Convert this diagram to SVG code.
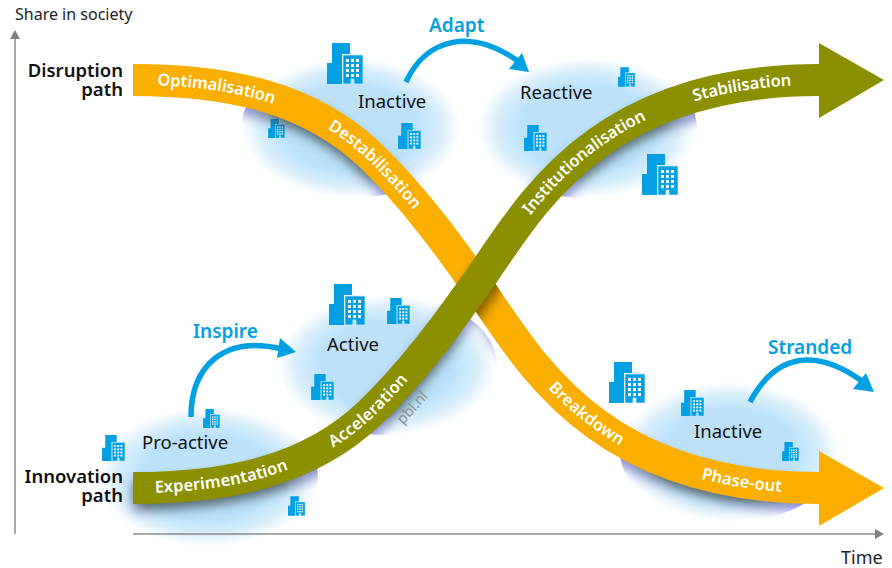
<svg xmlns="http://www.w3.org/2000/svg" xmlns:xlink="http://www.w3.org/1999/xlink" width="892" height="568" viewBox="0 0 892 568">
<style>
text{font-family:"Noto Sans","Open Sans","Liberation Sans",sans-serif}
.lbl{font-size:18.5px;fill:#111}
.path{font-size:18.5px;font-weight:600;fill:#111;text-anchor:end}
.act{font-size:19px;font-weight:600;fill:#00a0e3}
.ax{font-size:16px;fill:#222}
.band{font-size:16.5px;font-weight:600;fill:#fff;text-anchor:middle}
.arc{fill:none;stroke:#00a0e3;stroke-width:5.5}
.bl{fill:#00a0e3}
.axis{stroke:#8c8c8c;stroke-width:1.5;fill:none}
</style>
<defs>
<radialGradient id="g"><stop offset="0" stop-color="#bce1f8"/><stop offset=".6" stop-color="#bce1f8"/><stop offset=".82" stop-color="#d8eefb"/><stop offset="1" stop-color="#fff"/></radialGradient>
<radialGradient id="mi"><stop offset="0" stop-color="#fff"/><stop offset=".7" stop-color="#fff"/><stop offset="1" stop-color="#000"/></radialGradient>
<radialGradient id="mo"><stop offset="0" stop-color="#000"/><stop offset=".7" stop-color="#000"/><stop offset="1" stop-color="#fff"/></radialGradient>
<filter id="b1" x="-20%" y="-20%" width="140%" height="140%"><feGaussianBlur stdDeviation="6"/></filter>
<mask id="inner" maskUnits="userSpaceOnUse" x="0" y="0" width="892" height="568"><g fill="url(#mi)">
<ellipse cx="351" cy="128" rx="110" ry="70"/><ellipse cx="587" cy="128" rx="110" ry="70"/><ellipse cx="387" cy="365" rx="110" ry="70"/><ellipse cx="208" cy="477" rx="110" ry="70"/><ellipse cx="730" cy="452" rx="110" ry="70"/></g></mask>
<mask id="outer" maskUnits="userSpaceOnUse" x="0" y="0" width="892" height="568"><g fill="url(#mo)">
<ellipse cx="351" cy="128" rx="110" ry="70"/><ellipse cx="587" cy="128" rx="110" ry="70"/><ellipse cx="387" cy="365" rx="110" ry="70"/><ellipse cx="208" cy="477" rx="110" ry="70"/><ellipse cx="730" cy="452" rx="110" ry="70"/></g></mask>
<path id="po" d="M133 80C230 80 310 98 370 155C420 203 460 262 476 284C525 352 590 488 819 488"/>
<path id="pg" d="M133 488C230 488 310 470 370 413C420 365 460 306 476 284C525 216 590 80 819 80"/>
<mask id="om" maskUnits="userSpaceOnUse" x="0" y="0" width="892" height="568"><use href="#po" fill="none" stroke="#fff" stroke-width="32"/></mask>
<symbol id="bd" viewBox="0 0 36 41">
<path class="bl" d="M5 0H23V11H15V41H0V20H5Z"/>
<path class="bl" stroke="#bfe3f8" stroke-width=".8" d="M16 12H36V41H27V36H24V41H16Z"/>
<g fill="#fff"><rect x="19" y="16" width="3" height="3"/><rect x="24" y="16" width="3" height="3"/><rect x="29" y="16" width="3" height="3"/><rect x="19" y="21" width="3" height="3"/><rect x="24" y="21" width="3" height="3"/><rect x="29" y="21" width="3" height="3"/><rect x="19" y="26" width="3" height="3"/><rect x="24" y="26" width="3" height="3"/><rect x="29" y="26" width="3" height="3"/><rect x="19" y="31" width="3" height="3"/><rect x="24" y="31" width="3" height="3"/><rect x="29" y="31" width="3" height="3"/></g>
</symbol>
</defs>

<g id="node-inactive-top">
<ellipse cx="351" cy="128" rx="110" ry="70" fill="url(#g)"/>
<text class="lbl" x="358" y="108">Inactive</text>
<use href="#bd" x="327" y="43" width="36" height="41"/><use href="#bd" x="398" y="123" width="23" height="26"/><use href="#bd" x="268" y="119" width="17" height="19"/>
</g>
<g id="node-reactive">
<ellipse cx="587" cy="128" rx="110" ry="70" fill="url(#g)"/>
<text class="lbl" x="520" y="99">Reactive</text>
<use href="#bd" x="642" y="154" width="36" height="41"/><use href="#bd" x="524" y="125" width="23" height="26"/><use href="#bd" x="618" y="67" width="17" height="20"/>
</g>
<g id="node-active">
<ellipse cx="387" cy="365" rx="110" ry="70" fill="url(#g)"/>
<text class="lbl" x="327" y="351">Active</text>
<use href="#bd" x="329" y="284" width="36" height="41"/><use href="#bd" x="387" y="298" width="23" height="26"/><use href="#bd" x="311" y="374" width="23" height="26"/>
</g>
<g id="node-proactive">
<ellipse cx="208" cy="477" rx="110" ry="70" fill="url(#g)"/>
<text class="lbl" x="142" y="449">Pro-active</text>
<use href="#bd" x="102" y="435" width="23" height="26"/><use href="#bd" x="203" y="409" width="17" height="19"/><use href="#bd" x="288" y="496" width="17" height="20"/>
</g>
<g id="node-inactive-bottom">
<ellipse cx="730" cy="452" rx="110" ry="70" fill="url(#g)"/>
<text class="lbl" x="694" y="438">Inactive</text>
<use href="#bd" x="681" y="390" width="23" height="26"/><use href="#bd" x="782" y="442" width="17" height="19"/>
</g>
<g id="node-building-free"><use href="#bd" x="609" y="362" width="36" height="41"/></g>

<g id="axes">
<path class="axis" d="M15 38V534"/><path fill="#7f7f7f" d="M15 30L20 39H10Z"/>
<path class="axis" d="M133 534H876"/><path fill="#7f7f7f" d="M884 534L875 529V539Z"/>
<text class="ax" x="15" y="20">Share in society</text>
<text class="ax" x="841" y="564" style="font-size:18px">Time</text>
</g>

<g id="connectors">
<g mask="url(#outer)">
<g filter="url(#b1)" fill="none" opacity=".85">
<use href="#po" stroke="#6a70d8" stroke-width="30" transform="translate(0 8)"/>
<use href="#pg" stroke="#6a70d8" stroke-width="30" transform="translate(0 8)"/>
</g>
</g>
<g mask="url(#inner)">
<g filter="url(#b1)" fill="none" opacity=".8">
<use href="#po" stroke="#37474f" stroke-width="28" transform="translate(0 8)"/>
<use href="#pg" stroke="#37474f" stroke-width="28" transform="translate(0 8)"/>
</g>
</g>
<use id="orange-band" href="#po" fill="none" stroke="#f9ae00" stroke-width="32"/>
<path fill="#f9ae00" d="M819 451L884 488L819 526Z"/>
<g mask="url(#om)"><use href="#pg" fill="none" stroke="#4a3000" stroke-width="30" filter="url(#b1)" opacity=".7" transform="translate(5 5)"/></g>
<use id="olive-band" href="#pg" fill="none" stroke="#8c9000" stroke-width="32"/>
<path fill="#8c9000" d="M819 43L884 80L819 118Z"/>
<path class="arc" d="M406 82C425 40 470 25 522 64"/><path class="bl" d="M522 53L529 72L509 69Z"/>
<path class="arc" d="M191 417C191 365 225 335 282 349"/><path class="bl" d="M280 338L296 352L277 358Z"/>
<path class="arc" d="M750 402C775 355 815 345 866 384"/><path class="bl" d="M866 373L874 392L853 389Z"/>
<text class="band"><textPath href="#po" startOffset="84"><tspan dy="5">Optimalisation</tspan></textPath></text>
<text class="band"><textPath href="#po" startOffset="265"><tspan dy="5">Destabilisation</tspan></textPath></text>
<text class="band"><textPath href="#po" startOffset="594"><tspan dy="5">Breakdown</tspan></textPath></text>
<text class="band"><textPath href="#po" startOffset="766"><tspan dy="5">Phase-out</tspan></textPath></text>
<text class="band"><textPath href="#pg" startOffset="89"><tspan dy="5">Experimentation</tspan></textPath></text>
<text class="band"><textPath href="#pg" startOffset="255"><tspan dy="5">Acceleration</tspan></textPath></text>
<text class="band"><textPath href="#pg" startOffset="587"><tspan dy="5">Institutionalisation</tspan></textPath></text>
<text class="band"><textPath href="#pg" startOffset="766"><tspan dy="5">Stabilisation</tspan></textPath></text>
<text class="act" x="429" y="32">Adapt</text>
<text class="act" x="193" y="338">Inspire</text>
<text class="act" x="768" y="354">Stranded</text>
</g>
<text id="credit" transform="translate(403 425) rotate(-48)" font-size="14.5" fill="#8f8f8f">pbl.nl</text>
<g id="path-labels">
<text class="path" x="123" y="77">Disruption</text><text class="path" x="123" y="96">path</text>
<text class="path" x="123" y="483">Innovation</text><text class="path" x="123" y="502">path</text>
</g>
</svg>
